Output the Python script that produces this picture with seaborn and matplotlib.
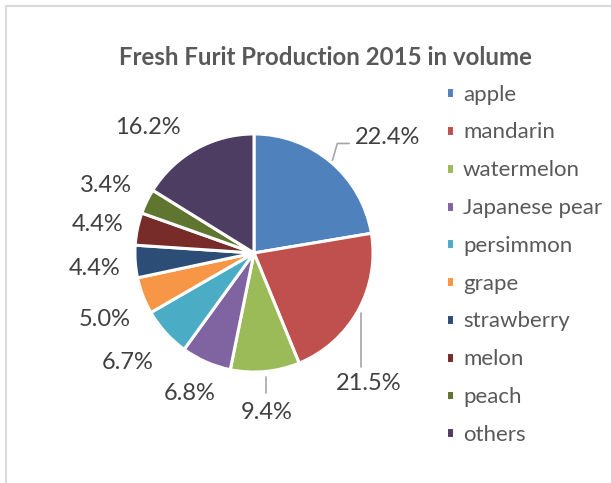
import numpy as np
import seaborn as sns
import matplotlib.pyplot as plt
from matplotlib.lines import Line2D

# data
fruits = ["apple", "mandarin", "watermelon", "Japanese pear", "persimmon",
          "grape", "strawberry", "melon", "peach", "others"]
shares = [22.4, 21.5, 9.4, 6.8, 6.7, 5.0, 4.4, 4.4, 3.4, 16.2]
pct_labels = ["22.4%", "21.5%", "9.4%", "6.8%", "6.7%",
              "5.0%", "4.4%", "4.4%", "3.4%", "16.2%"]

colors = ["#4F81BD", "#C0504D", "#9BBB59", "#8064A2", "#4BACC6",
          "#F79646", "#2C4D75", "#772C2A", "#5F7530", "#4E3D62"]

# label placement (in pie radius units), Excel "best fit" style
label_xy = [(0.85, 0.97), (0.96, -1.10), (0.11, -1.34), (-0.54, -1.18),
            (-1.06, -0.92), (-1.25, -0.56), (-1.34, -0.13), (-1.31, 0.24),
            (-1.24, 0.57), (-0.89, 1.05)]

sns.set_theme(style="white")
plt.rcParams["font.family"] = ["Lato", "DejaVu Sans"]
palette = sns.color_palette(colors)

fig = plt.figure(figsize=(6.11, 4.83), dpi=100)
ax = fig.add_axes([0.1039, 0.0818, 0.6236, 0.7888])

wedges, _ = ax.pie(shares, colors=palette, startangle=90, counterclock=False,
                   radius=1.0, wedgeprops=dict(edgecolor="white", linewidth=2.2))
ax.set_xlim(-1.6, 1.6)
ax.set_ylim(-1.6, 1.6)
ax.axis("off")

lead_col = "#A6A6A6"
for i, (w, lab) in enumerate(zip(wedges, pct_labels)):
    x, y = label_xy[i]
    ha = "left" if i == 0 else "center"
    ax.text(x, y, lab, ha=ha, va="center", fontsize=17, color="#404040")

    mid = np.deg2rad((w.theta1 + w.theta2) / 2)
    cx, cy = np.cos(mid), np.sin(mid)
    if i == 0:
        ax.plot([1.02 * cx, 0.70, 0.80], [1.02 * cy, 0.92, 0.92],
                color=lead_col, lw=1.2)
    elif i == 1:
        ax.plot([1.03 * cx, 1.03 * cx], [1.03 * cy, -0.96],
                color=lead_col, lw=1.2)
    elif i == 2:
        ax.plot([1.05 * cx, 1.05 * cx], [1.05 * cy, -1.18],
                color=lead_col, lw=1.2)

fig.text(0.532, 0.880, "Fresh Furit Production 2015 in volume", ha="center",
         va="center", fontsize=17.3, fontweight="bold", color="#595959")

leg = fig.legend(wedges, fruits, loc="upper left", bbox_to_anchor=(0.715, 0.843),
                 frameon=False, fontsize=16, handlelength=0.38, handleheight=0.38,
                 handletextpad=0.4, labelspacing=0.8, borderaxespad=0)
for t in leg.get_texts():
    t.set_color("#595959")

# chart area border (only the top and left edges are visible)
fig.add_artist(Line2D([6 / 611, 6 / 611], [0, 1 - 6 / 483],
                      transform=fig.transFigure, color="#D9D9D9", lw=1.5))
fig.add_artist(Line2D([6 / 611, 1], [1 - 6 / 483, 1 - 6 / 483],
                      transform=fig.transFigure, color="#D9D9D9", lw=1.5))

fig.savefig("out.png", dpi=100)
